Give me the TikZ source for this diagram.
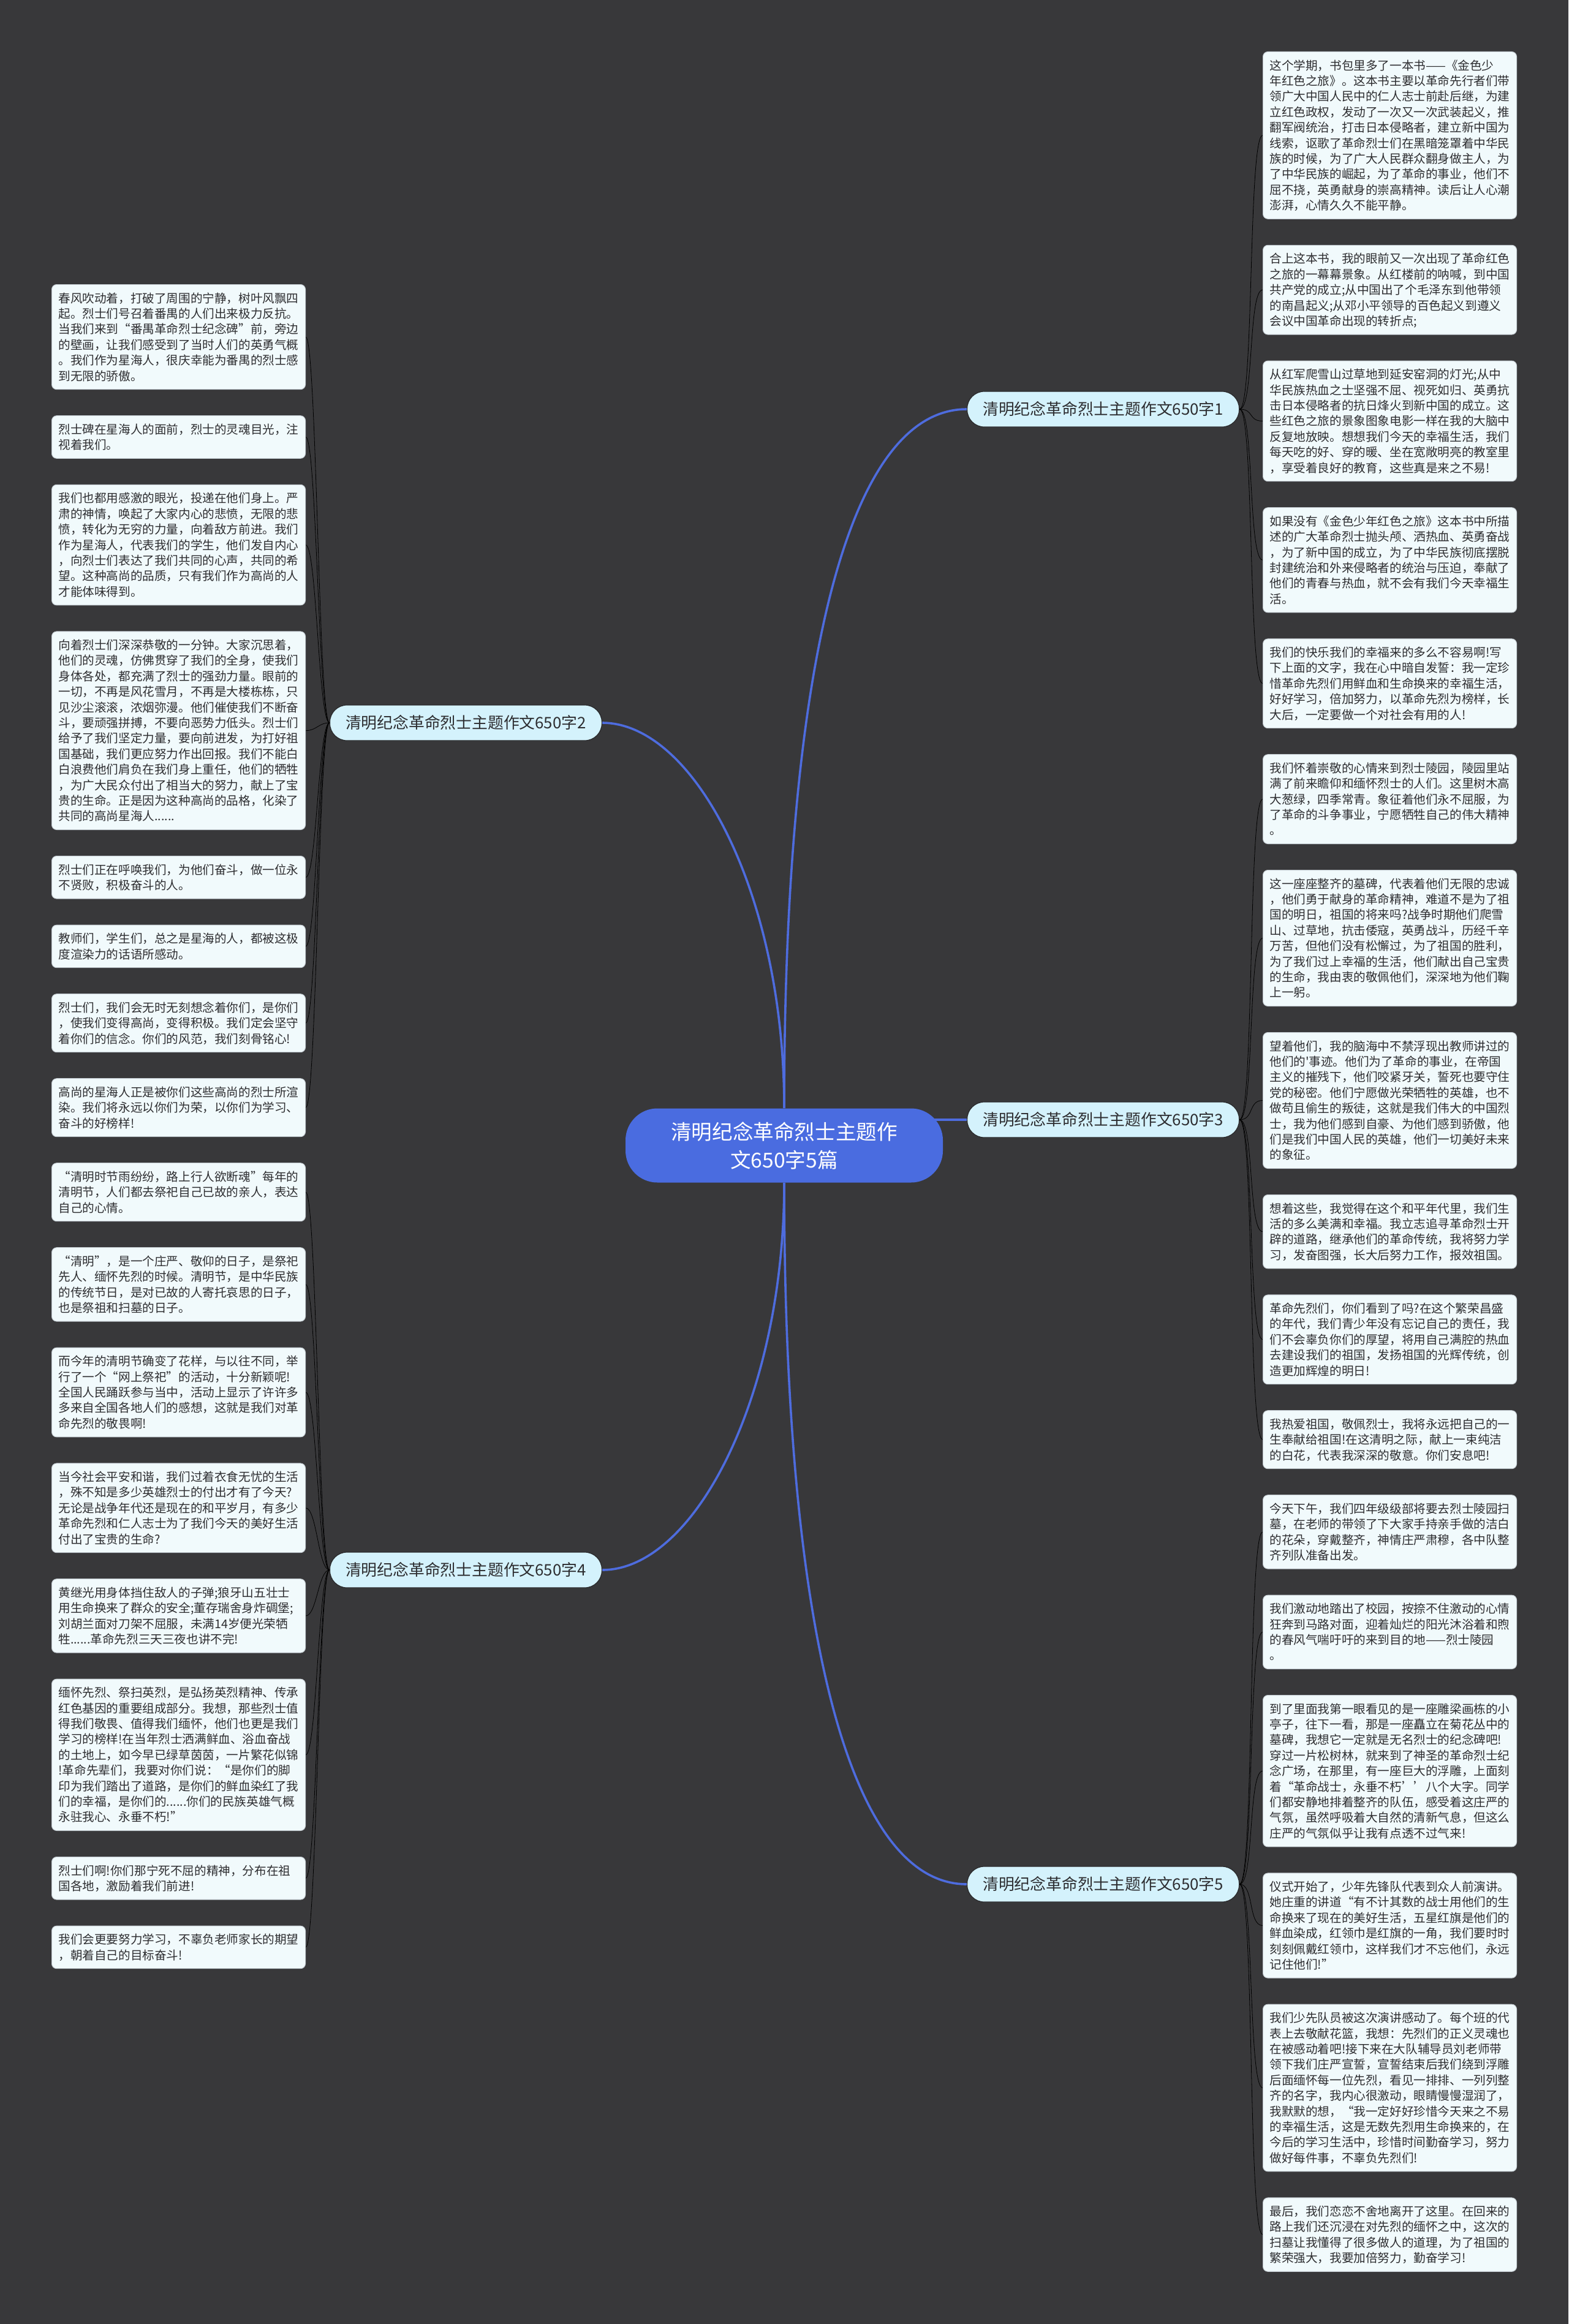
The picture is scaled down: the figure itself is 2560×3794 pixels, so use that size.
\documentclass[tikz,border=0pt]{standalone}
\usepackage{fontspec}
\newfontfamily\cjk{Noto Sans CJK SC}
\usepackage{tikz}
\usetikzlibrary{positioning, backgrounds}
\definecolor{mapBg}{RGB}{56,56,58}
\definecolor{mapLine}{RGB}{78,108,222}
\definecolor{mapInk}{RGB}{45,45,48}
\definecolor{rootFill}{RGB}{74,108,224}
\definecolor{topicFill}{RGB}{212,242,252}
\definecolor{topicEdge}{RGB}{40,40,42}
\definecolor{leafFill}{RGB}{241,250,252}
\definecolor{leafEdge}{RGB}{196,204,210}
% strut that fixes the pitch of the lines inside a card
\newcommand\leafstrut{\rule[-2.6pt]{0pt}{12.7pt}}
\tikzset{
  % the blue title in the middle
  root/.style={
    fill=rootFill, draw=none, rounded corners=26pt,
    minimum width=259pt, minimum height=60.5pt, align=center,
    text=white, font=\cjk\fontsize{16.8pt}{23pt}\selectfont
  },
  % one essay, pill shaped
  topic/.style={
    fill=topicFill, draw=topicEdge, line width=0.6pt, rounded corners=14pt,
    minimum width=222pt, minimum height=29pt, inner sep=0pt,
    text=mapInk, font=\cjk\fontsize{12.9pt}{15pt}\selectfont
  },
  % one paragraph of an essay
  leaf/.style={
    fill=leafFill, draw=leafEdge, line width=0.5pt, rounded corners=4pt,
    align=left, text width=196pt, inner xsep=5.5pt, inner ysep=4.7pt,
    text=mapInk, font=\cjk\fontsize{9.8pt}{12.7pt}\selectfont,
    execute at begin node=\leafstrut, execute at end node=\leafstrut
  },
  % connectors
  branch/.style={draw=mapLine, line width=1.8pt},
  twig/.style={draw=mapLine, line width=1.3pt},
  twigL/.style={twig, out=180, in=0, distance=9pt},
  twigR/.style={twig, out=0, in=180, distance=12pt},
}
\begin{document}
\begin{tikzpicture}[x=0.5pt, y=-0.5pt]
\useasboundingbox (0,0) rectangle (2560,3794);
\begin{scope}[on background layer]
  \fill[mapBg] (0,0) rectangle (2560,3794);
\end{scope}

% ============================ title and essays ==============================
\node[root] (centre) at (1280,1870) {清明纪念革命烈士主题作\\文650字5篇};

\node[topic, anchor=west] (e1) at (1578,668)  {清明纪念革命烈士主题作文650字1};
\node[topic, anchor=east] (e2) at (983,1180)  {清明纪念革命烈士主题作文650字2};
\node[topic, anchor=west] (e3) at (1578,1828) {清明纪念革命烈士主题作文650字3};
\node[topic, anchor=east] (e4) at (983,2563)  {清明纪念革命烈士主题作文650字4};
\node[topic, anchor=west] (e5) at (1578,3076) {清明纪念革命烈士主题作文650字5};

% ============================ right column ===================================
\node[leaf, anchor=north west] (e1a) at (2061,84)
  {这个学期，书包里多了一本书——《金色少\\年红色之旅》。这本书主要以革命先行者们带\\领广大中国人民中的仁人志士前赴后继，为建\\立红色政权，发动了一次又一次武装起义，推\\翻军阀统治，打击日本侵略者，建立新中国为\\线索，讴歌了革命烈士们在黑暗笼罩着中华民\\族的时候，为了广大人民群众翻身做主人，为\\了中华民族的崛起，为了革命的事业，他们不\\屈不挠，英勇献身的崇高精神。读后让人心潮\\澎湃，心情久久不能平静。};
\node[leaf, below=21pt of e1a] (e1b)
  {合上这本书，我的眼前又一次出现了革命红色\\之旅的一幕幕景象。从红楼前的呐喊，到中国\\共产党的成立;从中国出了个毛泽东到他带领\\的南昌起义;从邓小平领导的百色起义到遵义\\会议中国革命出现的转折点;};
\node[leaf, below=21pt of e1b] (e1c)
  {从红军爬雪山过草地到延安窑洞的灯光;从中\\华民族热血之士坚强不屈、视死如归、英勇抗\\击日本侵略者的抗日烽火到新中国的成立。这\\些红色之旅的景象图象电影一样在我的大脑中\\反复地放映。想想我们今天的幸福生活，我们\\每天吃的好、穿的暖、坐在宽敞明亮的教室里\\，享受着良好的教育，这些真是来之不易!};
\node[leaf, below=21pt of e1c] (e1d)
  {如果没有《金色少年红色之旅》这本书中所描\\述的广大革命烈士抛头颅、洒热血、英勇奋战\\，为了新中国的成立，为了中华民族彻底摆脱\\封建统治和外来侵略者的统治与压迫，奉献了\\他们的青春与热血，就不会有我们今天幸福生\\活。};
\node[leaf, below=21pt of e1d] (e1e)
  {我们的快乐我们的幸福来的多么不容易啊!写\\下上面的文字，我在心中暗自发誓：我一定珍\\惜革命先烈们用鲜血和生命换来的幸福生活，\\好好学习，倍加努力，以革命先烈为榜样，长\\大后，一定要做一个对社会有用的人!};
\node[leaf, below=21pt of e1e] (e3a)
  {我们怀着崇敬的心情来到烈士陵园，陵园里站\\满了前来瞻仰和缅怀烈士的人们。这里树木高\\大葱绿，四季常青。象征着他们永不屈服，为\\了革命的斗争事业，宁愿牺牲自己的伟大精神\\。};
\node[leaf, below=21pt of e3a] (e3b)
  {这一座座整齐的墓碑，代表着他们无限的忠诚\\，他们勇于献身的革命精神，难道不是为了祖\\国的明日，祖国的将来吗?战争时期他们爬雪\\山、过草地，抗击倭寇，英勇战斗，历经千辛\\万苦，但他们没有松懈过，为了祖国的胜利，\\为了我们过上幸福的生活，他们献出自己宝贵\\的生命，我由衷的敬佩他们，深深地为他们鞠\\上一躬。};
\node[leaf, below=21pt of e3b] (e3c)
  {望着他们，我的脑海中不禁浮现出教师讲过的\\他们的'事迹。他们为了革命的事业，在帝国\\主义的摧残下，他们咬紧牙关，誓死也要守住\\党的秘密。他们宁愿做光荣牺牲的英雄，也不\\做苟且偷生的叛徒，这就是我们伟大的中国烈\\士，我为他们感到自豪、为他们感到骄傲，他\\们是我们中国人民的英雄，他们一切美好未来\\的象征。};
\node[leaf, below=21pt of e3c] (e3d)
  {想着这些，我觉得在这个和平年代里，我们生\\活的多么美满和幸福。我立志追寻革命烈士开\\辟的道路，继承他们的革命传统，我将努力学\\习，发奋图强，长大后努力工作，报效祖国。};
\node[leaf, below=21pt of e3d] (e3e)
  {革命先烈们，你们看到了吗?在这个繁荣昌盛\\的年代，我们青少年没有忘记自己的责任，我\\们不会辜负你们的厚望，将用自己满腔的热血\\去建设我们的祖国，发扬祖国的光辉传统，创\\造更加辉煌的明日!};
\node[leaf, below=21pt of e3e] (e3f)
  {我热爱祖国，敬佩烈士，我将永远把自己的一\\生奉献给祖国!在这清明之际，献上一束纯洁\\的白花，代表我深深的敬意。你们安息吧!};
\node[leaf, below=21pt of e3f] (e5a)
  {今天下午，我们四年级级部将要去烈士陵园扫\\墓，在老师的带领了下大家手持亲手做的洁白\\的花朵，穿戴整齐，神情庄严肃穆，各中队整\\齐列队准备出发。};
\node[leaf, below=21pt of e5a] (e5b)
  {我们激动地踏出了校园，按捺不住激动的心情\\狂奔到马路对面，迎着灿烂的阳光沐浴着和煦\\的春风气喘吁吁的来到目的地——烈士陵园\\。};
\node[leaf, below=21pt of e5b] (e5c)
  {到了里面我第一眼看见的是一座雕梁画栋的小\\亭子，往下一看，那是一座矗立在菊花丛中的\\墓碑，我想它一定就是无名烈士的纪念碑吧!\\穿过一片松树林，就来到了神圣的革命烈士纪\\念广场，在那里，有一座巨大的浮雕，上面刻\\着“革命战士，永垂不朽’’八个大字。同学\\们都安静地排着整齐的队伍，感受着这庄严的\\气氛，虽然呼吸着大自然的清新气息，但这么\\庄严的气氛似乎让我有点透不过气来!};
\node[leaf, below=21pt of e5c] (e5d)
  {仪式开始了，少年先锋队代表到众人前演讲。\\她庄重的讲道“有不计其数的战士用他们的生\\命换来了现在的美好生活，五星红旗是他们的\\鲜血染成，红领巾是红旗的一角，我们要时时\\刻刻佩戴红领巾，这样我们才不忘他们，永远\\记住他们!”};
\node[leaf, below=21pt of e5d] (e5e)
  {我们少先队员被这次演讲感动了。每个班的代\\表上去敬献花篮，我想：先烈们的正义灵魂也\\在被感动着吧!接下来在大队辅导员刘老师带\\领下我们庄严宣誓，宣誓结束后我们绕到浮雕\\后面缅怀每一位先烈，看见一排排、一列列整\\齐的名字，我内心很激动，眼睛慢慢湿润了，\\我默默的想，“我一定好好珍惜今天来之不易\\的幸福生活，这是无数先烈用生命换来的，在\\今后的学习生活中，珍惜时间勤奋学习，努力\\做好每件事，不辜负先烈们!};
\node[leaf, below=21pt of e5e] (e5f)
  {最后，我们恋恋不舍地离开了这里。在回来的\\路上我们还沉浸在对先烈的缅怀之中，这次的\\扫墓让我懂得了很多做人的道理，为了祖国的\\繁荣强大，我要加倍努力，勤奋学习!};

% ============================ left column ====================================
\node[leaf, anchor=north west] (e2a) at (84,464)
  {春风吹动着，打破了周围的宁静，树叶风飘四\\起。烈士们号召着番禺的人们出来极力反抗。\\当我们来到“番禺革命烈士纪念碑”前，旁边\\的壁画，让我们感受到了当时人们的英勇气概\\。我们作为星海人，很庆幸能为番禺的烈士感\\到无限的骄傲。};
\node[leaf, below=21pt of e2a] (e2b)
  {烈士碑在星海人的面前，烈士的灵魂目光，注\\视着我们。};
\node[leaf, below=21pt of e2b] (e2c)
  {我们也都用感激的眼光，投递在他们身上。严\\肃的神情，唤起了大家内心的悲愤，无限的悲\\愤，转化为无穷的力量，向着敌方前进。我们\\作为星海人，代表我们的学生，他们发自内心\\，向烈士们表达了我们共同的心声，共同的希\\望。这种高尚的品质，只有我们作为高尚的人\\才能体味得到。};
\node[leaf, below=21pt of e2c] (e2d)
  {向着烈士们深深恭敬的一分钟。大家沉思着，\\他们的灵魂，仿佛贯穿了我们的全身，使我们\\身体各处，都充满了烈士的强劲力量。眼前的\\一切，不再是风花雪月，不再是大楼栋栋，只\\见沙尘滚滚，浓烟弥漫。他们催使我们不断奋\\斗，要顽强拼搏，不要向恶势力低头。烈士们\\给予了我们坚定力量，要向前进发，为打好祖\\国基础，我们更应努力作出回报。我们不能白\\白浪费他们肩负在我们身上重任，他们的牺牲\\，为广大民众付出了相当大的努力，献上了宝\\贵的生命。正是因为这种高尚的品格，化染了\\共同的高尚星海人......};
\node[leaf, below=21pt of e2d] (e2e)
  {烈士们正在呼唤我们，为他们奋斗，做一位永\\不贤败，积极奋斗的人。};
\node[leaf, below=21pt of e2e] (e2f)
  {教师们，学生们，总之是星海的人，都被这极\\度渲染力的话语所感动。};
\node[leaf, below=21pt of e2f] (e2g)
  {烈士们，我们会无时无刻想念着你们，是你们\\，使我们变得高尚，变得积极。我们定会坚守\\着你们的信念。你们的风范，我们刻骨铭心!};
\node[leaf, below=21pt of e2g] (e2h)
  {高尚的星海人正是被你们这些高尚的烈士所渲\\染。我们将永远以你们为荣，以你们为学习、\\奋斗的好榜样!};
\node[leaf, below=21pt of e2h] (e4a)
  {“清明时节雨纷纷，路上行人欲断魂”每年的\\清明节，人们都去祭祀自己已故的亲人，表达\\自己的心情。};
\node[leaf, below=21pt of e4a] (e4b)
  {“清明”，是一个庄严、敬仰的日子，是祭祀\\先人、缅怀先烈的时候。清明节，是中华民族\\的传统节日，是对已故的人寄托哀思的日子，\\也是祭祖和扫墓的日子。};
\node[leaf, below=21pt of e4b] (e4c)
  {而今年的清明节确变了花样，与以往不同，举\\行了一个“网上祭祀”的活动，十分新颖呢!\\全国人民踊跃参与当中，活动上显示了许许多\\多来自全国各地人们的感想，这就是我们对革\\命先烈的敬畏啊!};
\node[leaf, below=21pt of e4c] (e4d)
  {当今社会平安和谐，我们过着衣食无忧的生活\\，殊不知是多少英雄烈士的付出才有了今天?\\无论是战争年代还是现在的和平岁月，有多少\\革命先烈和仁人志士为了我们今天的美好生活\\付出了宝贵的生命?};
\node[leaf, below=21pt of e4d] (e4e)
  {黄继光用身体挡住敌人的子弹;狼牙山五壮士\\用生命换来了群众的安全;董存瑞舍身炸碉堡;\\刘胡兰面对刀架不屈服，未满14岁便光荣牺\\牲......革命先烈三天三夜也讲不完!};
\node[leaf, below=21pt of e4e] (e4f)
  {缅怀先烈、祭扫英烈，是弘扬英烈精神、传承\\红色基因的重要组成部分。我想，那些烈士值\\得我们敬畏、值得我们缅怀，他们也更是我们\\学习的榜样!在当年烈士洒满鲜血、浴血奋战\\的土地上，如今早已绿草茵茵，一片繁花似锦\\!革命先辈们，我要对你们说：“是你们的脚\\印为我们踏出了道路，是你们的鲜血染红了我\\们的幸福，是你们的......你们的民族英雄气概\\永驻我心、永垂不朽!”};
\node[leaf, below=21pt of e4f] (e4g)
  {烈士们啊!你们那宁死不屈的精神，分布在祖\\国各地，激励着我们前进!};
\node[leaf, below=21pt of e4g] (e4h)
  {我们会更要努力学习，不辜负老师家长的期望\\，朝着自己的目标奋斗!};

% ============================ connectors =====================================
\begin{scope}[on background layer]
  \draw[branch] (centre.north) to[out=90, in=180, out distance=350pt, in distance=100pt] (e1.west);
  \draw[branch] (centre.north) to[out=90, in=0, out distance=175pt, in distance=75pt] (e2.east);
  \draw[branch] (e3.west) -- (e3.west -| centre.center);
  \draw[branch] (centre.south) to[out=-90, in=0, out distance=175pt, in distance=75pt] (e4.east);
  \draw[branch] (centre.south) to[out=-90, in=180, out distance=350pt, in distance=100pt] (e5.west);

  \draw (e1.east) to[twigR] (e1a.west);
  \draw (e1.east) to[twigR] (e1b.west);
  \draw (e1.east) to[twigR] (e1c.west);
  \draw (e1.east) to[twigR] (e1d.west);
  \draw (e1.east) to[twigR] (e1e.west);

  \draw (e2.west) to[twigL] (e2a.east);
  \draw (e2.west) to[twigL] (e2b.east);
  \draw (e2.west) to[twigL] (e2c.east);
  \draw (e2.west) to[twigL] (e2d.east);
  \draw (e2.west) to[twigL] (e2e.east);
  \draw (e2.west) to[twigL] (e2f.east);
  \draw (e2.west) to[twigL] (e2g.east);
  \draw (e2.west) to[twigL] (e2h.east);

  \draw (e3.east) to[twigR] (e3a.west);
  \draw (e3.east) to[twigR] (e3b.west);
  \draw (e3.east) to[twigR] (e3c.west);
  \draw (e3.east) to[twigR] (e3d.west);
  \draw (e3.east) to[twigR] (e3e.west);
  \draw (e3.east) to[twigR] (e3f.west);

  \draw (e4.west) to[twigL] (e4a.east);
  \draw (e4.west) to[twigL] (e4b.east);
  \draw (e4.west) to[twigL] (e4c.east);
  \draw (e4.west) to[twigL] (e4d.east);
  \draw (e4.west) to[twigL] (e4e.east);
  \draw (e4.west) to[twigL] (e4f.east);
  \draw (e4.west) to[twigL] (e4g.east);
  \draw (e4.west) to[twigL] (e4h.east);

  \draw (e5.east) to[twigR] (e5a.west);
  \draw (e5.east) to[twigR] (e5b.west);
  \draw (e5.east) to[twigR] (e5c.west);
  \draw (e5.east) to[twigR] (e5d.west);
  \draw (e5.east) to[twigR] (e5e.west);
  \draw (e5.east) to[twigR] (e5f.west);
\end{scope}

\end{tikzpicture}
\end{document}
